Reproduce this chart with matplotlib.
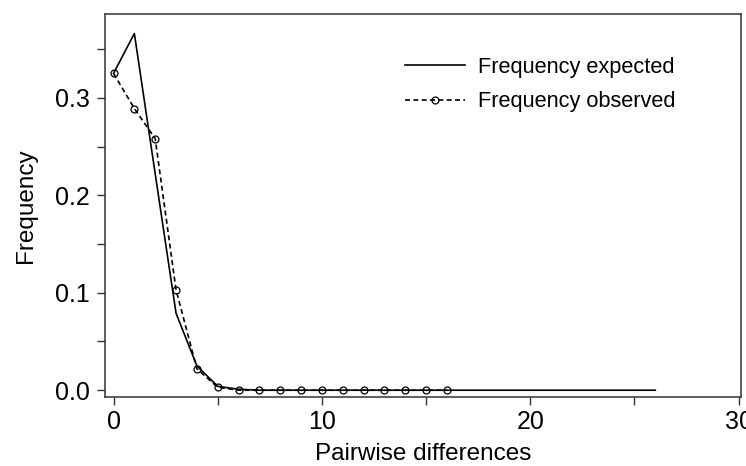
import matplotlib
matplotlib.use("Agg")
import matplotlib.pyplot as plt
from matplotlib.ticker import MultipleLocator, FormatStrFormatter

plt.rcParams["font.family"] = ["Liberation Sans", "DejaVu Sans"]

expected_x = [0, 1, 2, 3, 4, 5, 6, 7, 8, 9, 10, 11, 12, 13, 14, 15, 16, 17, 18, 19, 20, 21, 22, 23, 24, 25, 26]
expected_y = [0.325, 0.366, 0.222, 0.079, 0.025, 0.004, 0.001] + [0.0] * 20

observed_x = [0, 1, 2, 3, 4, 5, 6, 7, 8, 9, 10, 11, 12, 13, 14, 15, 16]
observed_y = [0.325, 0.289, 0.258, 0.103, 0.022, 0.003, 0.0, 0.0, 0.0, 0.0, 0.0, 0.0, 0.0, 0.0, 0.0, 0.0, 0.0]

fig = plt.figure(figsize=(7.46, 4.66), dpi=100)
ax = fig.add_axes([0.141, 0.148, 0.852, 0.822])

ax.plot(expected_x, expected_y, color="black", lw=1.2, label="Frequency expected")
ax.plot(observed_x, observed_y, color="black", lw=1.2, ls=(0, (3, 2)),
        marker="o", ms=5, mfc="none", mew=0.9, label="Frequency observed")

ax.set_xlim(-0.4, 30.1)
ax.set_ylim(-0.007, 0.386)
ax.xaxis.set_major_locator(MultipleLocator(10))
ax.xaxis.set_minor_locator(MultipleLocator(5))
ax.yaxis.set_major_locator(MultipleLocator(0.1))
ax.yaxis.set_minor_locator(MultipleLocator(0.05))
ax.yaxis.set_major_formatter(FormatStrFormatter("%.1f"))
ax.tick_params(which="both", direction="out", width=1, length=6, labelsize=18, pad=5,
               color="#333333")
ax.tick_params(axis="x", pad=3)
for s in ax.spines.values():
    s.set_color("#333333")
    s.set_linewidth(1.1)

ax.set_xlabel("Pairwise differences", fontsize=17.5, labelpad=6.5)
ax.set_ylabel("Frequency", fontsize=17.5, labelpad=13)

ax.legend(loc="upper left", frameon=False, fontsize=15.7, handlelength=2.75,
          handletextpad=0.6, labelspacing=0.62, borderpad=0, borderaxespad=0,
          bbox_to_anchor=(0.472, 0.888))

fig.savefig("out.png", dpi=100)
